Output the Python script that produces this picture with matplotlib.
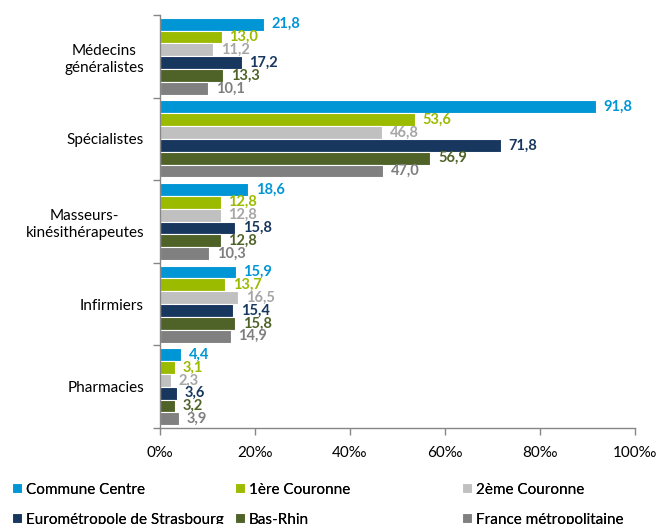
import matplotlib
matplotlib.use("Agg")
import matplotlib.pyplot as plt
import numpy as np

categories = ["Médecins\ngénéralistes", "Spécialistes", "Masseurs-\nkinésithérapeutes", "Infirmiers", "Pharmacies"]
series_names = ["Commune Centre", "1ère Couronne", "2ème Couronne",
                "Eurométropole de Strasbourg", "Bas-Rhin", "France métropolitaine"]
commune_centre = [21.8, 91.8, 18.6, 15.9, 4.4]
premiere_couronne = [13.0, 53.6, 12.8, 13.7, 3.1]
deuxieme_couronne = [11.2, 46.8, 12.8, 16.5, 2.3]
eurometropole = [17.2, 71.8, 15.8, 15.4, 3.6]
bas_rhin = [13.3, 56.9, 12.8, 15.8, 3.2]
france = [10.1, 47.0, 10.3, 14.9, 3.9]
xticks = [0, 20, 40, 60, 80, 100]
xtick_labels = ["0‰", "20‰", "40‰", "60‰", "80‰", "100‰"]

series = [commune_centre, premiere_couronne, deuxieme_couronne, eurometropole, bas_rhin, france]
bar_colors = ["#0096D6", "#9BBB00", "#C0C0C0", "#17375E", "#4F6228", "#808080"]
label_colors = ["#0096D6", "#9BBB00", "#A6A6A6", "#17375E", "#4F6228", "#7F7F7F"]

plt.rcParams['font.family'] = ['Lato', 'DejaVu Sans']

fig = plt.figure(figsize=(6.59, 5.24), dpi=100)
ax = fig.add_axes([160/659, 1-428/524, (635-160)/659, (428-15)/524])

y = np.arange(len(categories))
h = 0.155
handles = []
for i, (vals, c, lc) in enumerate(zip(series, bar_colors, label_colors)):
    pos = y + (i - 2.5) * h
    b = ax.barh(pos, vals, height=h, color=c, edgecolor="white", linewidth=0.8, label=series_names[i])
    handles.append(b)
    for p, v in zip(pos, vals):
        ax.annotate(f"{v:.1f}".replace(".", ","), xy=(v, p), xytext=(5.5, 0),
                    textcoords="offset points", va="center", ha="left",
                    color=lc, fontsize=10.5, fontweight="bold")

ax.set_xlim(0, 100)
ax.set_ylim(4.5, -0.5)
ax.set_yticks(y)
ax.set_yticklabels(categories, fontsize=11, linespacing=1.3, ha="right", multialignment="center")
ax.tick_params(axis="y", which="major", length=0, pad=11.5)
ax.set_yticks(np.arange(-0.5, 5, 1), minor=True)
ax.tick_params(axis="y", which="minor", length=5, color="#868686", width=1)
ax.set_xticks(xticks)
ax.set_xticklabels(xtick_labels, fontsize=11)
ax.tick_params(axis="x", length=5, color="#868686", width=1, pad=8)
for s in ["top", "right"]:
    ax.spines[s].set_visible(False)
for s in ["left", "bottom"]:
    ax.spines[s].set_color("#868686")
    ax.spines[s].set_linewidth(1)

cols = [(0, 3), (1, 4), (2, 5)]
xpos = [7/659, 230/659, 457/659]
for (a, b), xp in zip(cols, xpos):
    leg = fig.legend([handles[a], handles[b]], [series_names[a], series_names[b]],
                     loc="upper left", bbox_to_anchor=(xp, 1-478/524), frameon=False,
                     fontsize=11, handlelength=0.65, handleheight=0.65, handletextpad=0.3,
                     labelspacing=1.05, borderaxespad=0, borderpad=0.3)
    fig.add_artist(leg)

fig.savefig("out.png", dpi=100)
